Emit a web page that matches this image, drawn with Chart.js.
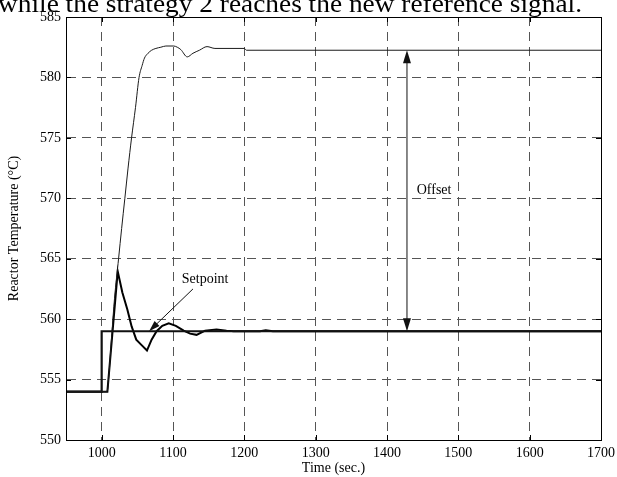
<!DOCTYPE html>
<html>
<head>
<meta charset="utf-8">
<script src="https://cdn.jsdelivr.net/npm/chart.js@4.4.1/dist/chart.umd.min.js"></script>
<style>
  html, body { margin: 0; padding: 0; background: #fff; }
</style>
</head>
<body>
<canvas id="chart" width="617" height="477"></canvas>
<script>
// setpoint step
const setpointT = [950, 1000, 1000, 1700];
const setpointV = [554, 554, 559, 559];

// strategy 2 response (thick)
const strat2T = [950, 1008, 1022.5, 1029, 1036, 1042, 1048.5, 1056, 1063.5, 1070, 1077, 1085, 1094, 1104, 1115, 1124, 1133, 1145, 1161, 1175, 1185, 1222, 1230, 1240, 1700];
const strat2V = [554, 554, 563.95, 562.2, 560.8, 559.4, 558.3, 557.85, 557.4, 558.3, 559.0, 559.45, 559.65, 559.45, 559.05, 558.8, 558.7, 559.05, 559.15, 559.05, 559.0, 559.0, 559.08, 559.0, 559.0];

// strategy 1 response (thin, ends with offset)
const strat1T = [950, 1007.5, 1010, 1014.3, 1018, 1023.7, 1028, 1032.5, 1037, 1041.9, 1047.4, 1052.4, 1056.8, 1060, 1065, 1070, 1076, 1083, 1090, 1101, 1106, 1111, 1120, 1128, 1137, 1147.7, 1158.8, 1200, 1203, 1700];
const strat1V = [554, 554, 555.3, 558.8, 561.7, 565, 567.5, 570, 572.5, 575, 577.5, 580, 581, 581.6, 582, 582.25, 582.4, 582.5, 582.6, 582.6, 582.5, 582.3, 581.7, 582.0, 582.25, 582.55, 582.4, 582.4, 582.25, 582.25];

const xTicks = [1000, 1100, 1200, 1300, 1400, 1500, 1600, 1700];
const yTicks = [550, 555, 560, 565, 570, 575, 580, 585];

// annotations (data coords)
const offsetArrow = { t: 1428, from: 582.25, to: 559 };
const offsetLabel = { t: 1466, v: 570.65, text: "Offset" };
const setpointArrow = { t0: 1128, v0: 562.5, t1: 1066.5, v1: 559.0 };
const setpointLabel = { t: 1145, v: 563.3, text: "Setpoint" };
const headerText = "while the strategy 2 reaches the new reference signal.";

const SERIF = "'Liberation Serif', 'Times New Roman', serif";
const toPts = (ts, vs) => ts.map((t, i) => ({ x: t, y: vs[i] }));

function arrowHead(ctx, x, y, ang, len, wid) {
  ctx.beginPath();
  ctx.moveTo(x, y);
  ctx.lineTo(x - len * Math.cos(ang) + wid / 2 * Math.sin(ang), y - len * Math.sin(ang) - wid / 2 * Math.cos(ang));
  ctx.lineTo(x - len * Math.cos(ang) - wid / 2 * Math.sin(ang), y - len * Math.sin(ang) + wid / 2 * Math.cos(ang));
  ctx.closePath();
  ctx.fill();
}

const decor = {
  id: "decor",
  afterDraw(chart) {
    const { ctx, chartArea: a, scales: { x, y } } = chart;
    ctx.save();

    // frame
    ctx.strokeStyle = "#000";
    ctx.lineWidth = 1;
    ctx.setLineDash([]);
    ctx.strokeRect(Math.round(a.left) + 0.5, Math.round(a.top) + 0.5, Math.round(a.right - a.left), Math.round(a.bottom - a.top));

    // inner tick marks
    ctx.beginPath();
    xTicks.forEach(v => {
      const px = Math.round(x.getPixelForValue(v)) + 0.5;
      ctx.moveTo(px, a.top); ctx.lineTo(px, a.top + 5);
      ctx.moveTo(px, a.bottom); ctx.lineTo(px, a.bottom - 5);
    });
    yTicks.forEach(v => {
      const py = Math.round(y.getPixelForValue(v)) + 0.5;
      ctx.moveTo(a.left, py); ctx.lineTo(a.left + 5, py);
      ctx.moveTo(a.right, py); ctx.lineTo(a.right - 5, py);
    });
    ctx.stroke();

    // offset double arrow
    ctx.fillStyle = "#111";
    ctx.strokeStyle = "#111";
    const ox = x.getPixelForValue(offsetArrow.t);
    const oy0 = y.getPixelForValue(offsetArrow.from);
    const oy1 = y.getPixelForValue(offsetArrow.to);
    ctx.beginPath();
    ctx.moveTo(ox, oy0 + 10); ctx.lineTo(ox, oy1 - 10);
    ctx.stroke();
    arrowHead(ctx, ox, oy0, -Math.PI / 2, 13, 8);
    arrowHead(ctx, ox, oy1, Math.PI / 2, 13, 8);

    // setpoint arrow
    const sx0 = x.getPixelForValue(setpointArrow.t0), sy0 = y.getPixelForValue(setpointArrow.v0);
    const sx1 = x.getPixelForValue(setpointArrow.t1), sy1 = y.getPixelForValue(setpointArrow.v1);
    const ang = Math.atan2(sy1 - sy0, sx1 - sx0);
    ctx.beginPath();
    ctx.moveTo(sx0, sy0); ctx.lineTo(sx1 - 8 * Math.cos(ang), sy1 - 8 * Math.sin(ang));
    ctx.stroke();
    arrowHead(ctx, sx1, sy1, ang, 11, 7);

    // labels
    ctx.fillStyle = "#000";
    ctx.font = "14px " + SERIF;
    ctx.textAlign = "center";
    ctx.textBaseline = "middle";
    ctx.fillText(offsetLabel.text, x.getPixelForValue(offsetLabel.t), y.getPixelForValue(offsetLabel.v));
    ctx.fillText(setpointLabel.text, x.getPixelForValue(setpointLabel.t), y.getPixelForValue(setpointLabel.v));

    // cut-off text line above the figure (stretched to the width it has in the scan)
    ctx.font = "25px " + SERIF;
    ctx.textAlign = "left";
    ctx.textBaseline = "alphabetic";
    const w = ctx.measureText(headerText).width;
    ctx.translate(-2, 12);
    ctx.scale(584 / w, 1);
    ctx.fillText(headerText, 0, 0);

    ctx.restore();
  }
};

new Chart(document.getElementById("chart"), {
  type: "line",
  data: {
    datasets: [
      {
        label: "Strategy 1",
        data: toPts(strat1T, strat1V),
        borderColor: "#1a1a1a",
        borderWidth: 1,
        pointRadius: 0,
        cubicInterpolationMode: "monotone",
      },
      {
        label: "Setpoint",
        data: toPts(setpointT, setpointV),
        borderColor: "#111",
        borderWidth: 2.2,
        pointRadius: 0,
        tension: 0,
      },
      {
        label: "Strategy 2",
        data: toPts(strat2T, strat2V),
        borderColor: "#000",
        borderWidth: 2,
        pointRadius: 0,
        tension: 0,
      },
    ],
  },
  options: {
    responsive: false,
    animation: false,
    events: [],
    layout: { padding: { top: 17, right: 16, left: 0, bottom: 0 } },
    plugins: { legend: { display: false }, tooltip: { enabled: false } },
    scales: {
      x: {
        type: "linear",
        min: 950,
        max: 1700,
        afterBuildTicks: (s) => { s.ticks = xTicks.map(v => ({ value: v })); },
        afterFit: (s) => { s.height = 37; s.paddingRight = 0; s.paddingLeft = 0; },
        grid: { color: "#555", lineWidth: 1, drawTicks: false },
        border: { display: true, color: "#000", dash: [9, 6] },
        ticks: { color: "#000", font: { family: SERIF, size: 14 }, padding: 5, maxRotation: 0, callback: (v) => String(v) },
        title: { display: true, text: "Time (sec.)", color: "#000", font: { family: SERIF, size: 14 }, padding: { top: 0, bottom: 0 } },
      },
      y: {
        min: 550,
        max: 585,
        afterBuildTicks: (s) => { s.ticks = yTicks.map(v => ({ value: v })); },
        afterFit: (s) => { s.width = 66; },
        grid: { color: "#555", lineWidth: 1, drawTicks: false },
        border: { display: true, color: "#000", dash: [9, 6] },
        ticks: { color: "#000", font: { family: SERIF, size: 14 }, padding: 5, callback: (v) => String(v) },
        title: { display: true, text: "Reactor Temperature (°C)", color: "#000", font: { family: SERIF, size: 14 }, padding: { top: 6, bottom: 0 } },
      },
    },
  },
  plugins: [decor],
});
</script>
</body>
</html>
